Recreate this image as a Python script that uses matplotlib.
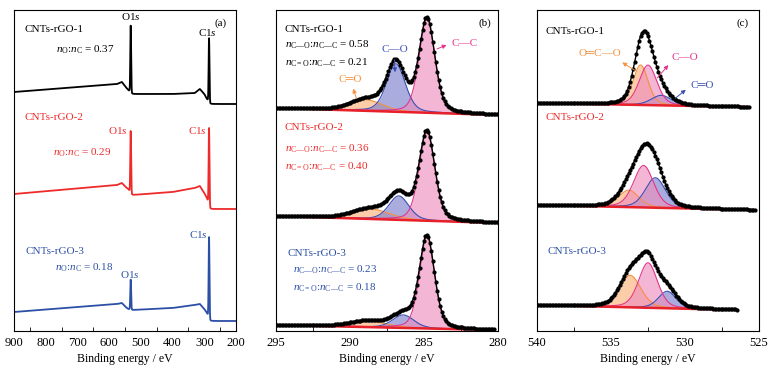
import numpy as np
import matplotlib
matplotlib.use("Agg")
import matplotlib.pyplot as plt

plt.rcParams['font.family'] = ['Liberation Serif', 'DejaVu Sans']
plt.rcParams['mathtext.fontset'] = 'custom'
plt.rcParams['mathtext.rm'] = 'Liberation Serif'
plt.rcParams['mathtext.it'] = 'Liberation Serif:italic'

# colours of the three samples
sample_names = ['CNTs-rGO-1', 'CNTs-rGO-2', 'CNTs-rGO-3']
sample_colors = ['#000000', '#ee2a2a', '#2c4fa6']

# ---- (a) survey spectra: baseline anchors (eV, intensity) + O1s / C1s peaks
survey_anchor_e = [900, 575, 560, 548, 540, 528, 400, 330, 314, 300, 292, 281, 200]
survey_base = [
    [239, 247, 249, 244, 241, 237, 237, 238, 242, 237, 232, 227, 227],
    [137, 146, 148, 144, 142, 136, 139, 143, 145, 138, 133, 122, 122],
    [19, 27, 28, 24, 22, 21, 23, 26, 27, 22, 18, 10, 10],
]
survey_peak_e = [532, 285]
survey_peak_h = [[67, 64], [62, 77], [30, 81]]
ratio_a = ['0.37', '0.29', '0.18']

# ---- (b) C1s: components C-C, C-O, C=O  (centre, height, fwhm)
c1s_end = [280.0, 280.0, 280.3]
c1s_base = [[223, 216], [115, 108], [6, 1]]
c1s_cc = [(284.8, 94, 1.25), (284.8, 89, 1.25), (284.8, 92, 1.2)]
c1s_co = [(286.9, 48, 1.5), (286.7, 24, 1.6), (286.4, 13, 1.7)]
c1s_c2o = [(288.9, 11, 2.6), (288.6, 10, 3.0), (288.8, 6, 3.0)]
ratio_co = ['0.58', '0.36', '0.23']
ratio_c2o = ['0.21', '0.40', '0.18']

# ---- (c) O1s: components O=C-O, C-O, C=O
o1s_end = [525.7, 525.3, 526.5]
o1s_base = [[228, 224], [126, 121], [26, 21]]
o1s_oco = [(533.0, 40, 1.2), (533.8, 17, 1.6), (533.7, 32, 1.7)]
o1s_co = [(532.5, 40, 1.4), (532.8, 42, 1.6), (532.5, 45, 1.5)]
o1s_c2o = [(531.6, 10, 1.6), (532.0, 30, 1.6), (531.2, 17, 1.4)]

pink_fill, pink_edge = '#ee8fbe', '#e2358c'
blue_fill, blue_edge = '#7c80cc', '#3a4fb5'
orng_fill, orng_edge = '#fbb27a', '#f5913f'


def pv(x, c, h, w, m=0.3):
    g = np.exp(-4 * np.log(2) * ((x - c) / w) ** 2)
    l = 1 / (1 + 4 * ((x - c) / w) ** 2)
    return h * ((1 - m) * g + m * l)


fig = plt.figure(figsize=(7.73, 3.70), dpi=100)
W, H = 773, 370
axes = []
for left, rng in [(14, (900, 200)), (276, (295, 280)), (537, (540, 525))]:
    ax = fig.add_axes([left / W, (H - 331) / H, 222 / W, 321 / H])
    ax.set_xlim(*rng)
    ax.set_ylim(0, 321)
    ax.set_yticks([])
    ax.set_xlabel('Binding energy / eV', fontsize=8.5, labelpad=3)
    ax.tick_params(axis='x', which='major', length=0, labelsize=9, pad=4)
    ax.tick_params(axis='x', which='minor', direction='in', length=3, width=0.6)
    for s in ax.spines.values():
        s.set_linewidth(0.8)
    axes.append(ax)
ax_a, ax_b, ax_c = axes
ax_a.set_xticks(np.arange(900, 199, -100))
ax_a.set_xticks(np.arange(850, 200, -100), minor=True)
ax_b.set_xticks([295, 290, 285, 280])
ax_b.set_xticks([292.5, 287.5, 282.5], minor=True)
ax_c.set_xticks([540, 535, 530, 525])
ax_c.set_xticks([537.5, 532.5, 527.5], minor=True)

fs = 8
# ---------- panel (a)
e = np.arange(900, 199.5, -0.5)
for i in range(3):
    y = np.interp(e[::-1], survey_anchor_e[::-1], survey_base[i][::-1])[::-1]
    for pe, ph in zip(survey_peak_e, survey_peak_h[i]):
        y = y + pv(e, pe, ph, 3.0, 0.1)
    ax_a.plot(e, y, color=sample_colors[i], lw=1.3)

ax_a.text(868, 301, sample_names[0], color=sample_colors[0], fontsize=fs, va='center')
ax_a.text(768, 281, r'$n_{\rm O}$:$n_{\rm C}$ = ' + ratio_a[0], color=sample_colors[0], fontsize=fs, va='center')
ax_a.text(531, 314, r'O1$s$', color=sample_colors[0], fontsize=fs, ha='center', va='center')
ax_a.text(289, 299, r'C1$s$', color=sample_colors[0], fontsize=fs, ha='center', va='center')
ax_a.text(250, 308, '(a)', fontsize=fs, ha='center', va='center')
ax_a.text(868, 213, sample_names[1], color=sample_colors[1], fontsize=fs, va='center')
ax_a.text(777, 178, r'$n_{\rm O}$:$n_{\rm C}$ = ' + ratio_a[1], color=sample_colors[1], fontsize=fs, va='center')
ax_a.text(543, 201, r'O1$s$', color=sample_colors[1], fontsize=fs, ha='right', va='center')
ax_a.text(292, 201, r'C1$s$', color=sample_colors[1], fontsize=fs, ha='right', va='center')
ax_a.text(865, 79, sample_names[2], color=sample_colors[2], fontsize=fs, va='center')
ax_a.text(771, 63, r'$n_{\rm O}$:$n_{\rm C}$ = ' + ratio_a[2], color=sample_colors[2], fontsize=fs, va='center')
ax_a.text(534, 57, r'O1$s$', color=sample_colors[2], fontsize=fs, ha='center', va='center')
ax_a.text(289, 96, r'C1$s$', color=sample_colors[2], fontsize=fs, ha='right', va='center')


def draw_fit(ax, start, end, base, comps):
    x = np.arange(start, end - 0.01, -0.05)
    b = np.linspace(base[0], base[1], len(x))
    total = b.copy()
    for (c, h, w), fc, ec in comps:
        comp = pv(x, c, h, w)
        total += comp
        ax.fill_between(x, b, b + comp, color=fc, alpha=0.65, lw=0)
        ax.plot(x, b + comp, color=ec, lw=0.8)
    ax.plot(x, b, color='#e8202a', lw=1.8)
    ax.plot(x, total, color='black', lw=1.0)
    ax.plot(x[::2], total[::2], 'o', color='black', ms=2.0)


# ---------- panel (b)
for i in range(3):
    draw_fit(ax_b, 295, c1s_end[i], c1s_base[i],
             [(c1s_c2o[i], orng_fill, orng_edge), (c1s_co[i], blue_fill, blue_edge),
              (c1s_cc[i], pink_fill, pink_edge)])

rat_b = [(301, 286, 268), (203, 182, 164), (78, 61, 43)]
xs_b = [294.4, 294.4, 294.2]
for i in range(3):
    y0, y1, y2 = rat_b[i]
    col = sample_colors[i]
    ax_b.text(xs_b[i], y0, sample_names[i], color=col, fontsize=fs, va='center')
    dx = 0.35 if i == 2 else 0.0
    ax_b.text(xs_b[i] - dx, y1, r'$n_{\rm C—O}$:$n_{\rm C—C}$ = ' + ratio_co[i], color=col, fontsize=fs, va='center')
    ax_b.text(xs_b[i] - dx, y2, r'$n_{\rm C=O}$:$n_{\rm C—C}$ = ' + ratio_c2o[i], color=col, fontsize=fs, va='center')

ax_b.text(287.0, 281, 'C—O', color=blue_edge, fontsize=fs, ha='center', va='center')
ax_b.annotate('', xy=(286.95, 256), xytext=(287.0, 274),
              arrowprops=dict(arrowstyle='-|>', color=blue_edge, lw=0.7, mutation_scale=6))
ax_b.text(283.15, 288, 'C—C', color=pink_edge, fontsize=fs, va='center')
ax_b.annotate('', xy=(283.3, 287), xytext=(284.3, 281),
              arrowprops=dict(arrowstyle='-|>', color=pink_edge, lw=0.7, mutation_scale=6))
ax_b.text(290.0, 251, 'C═O', color=orng_edge, fontsize=fs, ha='center', va='center')
ax_b.annotate('', xy=(289.85, 245), xytext=(289.5, 230),
              arrowprops=dict(arrowstyle='-|>', color=orng_edge, lw=0.7, mutation_scale=6))
ax_b.text(280.9, 308, '(b)', fontsize=fs, ha='center', va='center')

# ---------- panel (c)
for i in range(3):
    draw_fit(ax_c, 540, o1s_end[i], o1s_base[i],
             [(o1s_oco[i], orng_fill, orng_edge), (o1s_c2o[i], blue_fill, blue_edge),
              (o1s_co[i], pink_fill, pink_edge)])

ax_c.text(539.4, 300, sample_names[0], color=sample_colors[0], fontsize=fs, va='center')
ax_c.text(539.4, 213, sample_names[1], color=sample_colors[1], fontsize=fs, va='center')
ax_c.text(539.3, 79, sample_names[2], color=sample_colors[2], fontsize=fs, va='center')
ax_c.text(535.75, 278, 'O═C—O', color=orng_edge, fontsize=fs, ha='center', va='center')
ax_c.annotate('', xy=(534.4, 270), xytext=(533.2, 259),
              arrowprops=dict(arrowstyle='-|>', color=orng_edge, lw=0.7, mutation_scale=6))
ax_c.text(530.9, 273, 'C—O', color=pink_edge, fontsize=fs, va='center')
ax_c.annotate('', xy=(531.0, 268), xytext=(532.0, 251),
              arrowprops=dict(arrowstyle='-|>', color=pink_edge, lw=0.7, mutation_scale=6))
ax_c.text(529.65, 245, 'C═O', color=blue_edge, fontsize=fs, va='center')
ax_c.annotate('', xy=(529.8, 243), xytext=(530.8, 231),
              arrowprops=dict(arrowstyle='-|>', color=blue_edge, lw=0.7, mutation_scale=6))
ax_c.text(526.1, 308, '(c)', fontsize=fs, ha='center', va='center')

fig.savefig('out.png', dpi=100)
